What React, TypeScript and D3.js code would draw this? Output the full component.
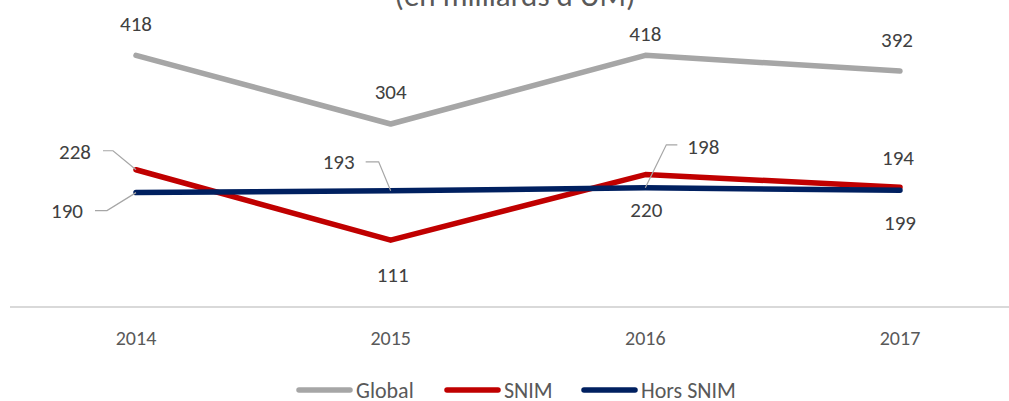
import React from 'react';
import * as d3 from 'd3';

const years = ['2014', '2015', '2016', '2017'];
const globalValues = [418, 304, 418, 392];
const snimValues = [228, 111, 220, 199];
const horsSnimValues = [190, 193, 198, 194];
const seriesNames = ['Global', 'SNIM', 'Hors SNIM'];
const title = "(en milliards d'UM)";

const width = 1009;
const height = 401;
const colors = ['#A6A6A6', '#C00000', '#002060'];
const font = 'Calibri, Carlito, Lato, sans-serif';

// where each data label sits relative to its point (dx, dy of baseline), plus optional leader line
type Lbl = { dx: number; dy: number; leader?: [number, number][] };
const labelPlacement: Lbl[][] = [
  [{ dx: 0, dy: -24 }, { dx: 0, dy: -25 }, { dx: 0, dy: -14 }, { dx: -3, dy: -24 }],
  [
    { dx: -61, dy: -11, leader: [[-23, -19], [-33, -19]] },
    { dx: 2, dy: 42 },
    { dx: 1, dy: 42 },
    { dx: 0, dy: 43 },
  ],
  [
    { dx: -69, dy: 25, leader: [[-29, 18], [-41, 18]] },
    { dx: -52, dy: -22, leader: [[-12, -29], [-25, -29]] },
    { dx: 58, dy: -34, leader: [[21, -43], [32, -43]] },
    { dx: -2, dy: -25 },
  ],
];

const App = () => {
  const series = [globalValues, snimValues, horsSnimValues];

  const x = d3.scalePoint().domain(years).range([136, 900]);
  const y = d3.scaleLinear().domain([0, 500]).range([307, 6]);

  const line = d3
    .line<number>()
    .x((_, i) => x(years[i]) as number)
    .y((d) => y(d));

  const legendX = [297, 445, 582];

  return (
    <svg
      width={width}
      height={height}
      style={{ position: 'absolute', left: 0, top: 0, background: '#fff' }}
      fontFamily={font}
    >
      <text x={515} y={6} textAnchor="middle" fontSize={31} fill="#595959">
        {title}
      </text>

      {/* category axis */}
      <line x1={10} x2={width} y1={y(0)} y2={y(0)} stroke="#D9D9D9" strokeWidth={2} />
      {years.map((yr) => (
        <text key={yr} x={x(yr)} y={345} textAnchor="middle" fontSize={20} fill="#595959">
          {yr}
        </text>
      ))}

      {series.map((vals, si) => (
        <path
          key={si}
          d={line(vals) || ''}
          fill="none"
          stroke={colors[si]}
          strokeWidth={5.5}
          strokeLinecap="round"
          strokeLinejoin="round"
        />
      ))}

      {series.map((vals, si) =>
        vals.map((v, i) => {
          const px = x(years[i]) as number;
          const py = y(v);
          const p = labelPlacement[si][i];
          return (
            <g key={`${si}-${i}`}>
              {p.leader && (
                <polyline
                  points={[[0, 0], ...p.leader].map(([a, b]) => `${px + a},${py + b}`).join(' ')}
                  fill="none"
                  stroke="#A6A6A6"
                  strokeWidth={1.2}
                />
              )}
              <text x={px + p.dx} y={py + p.dy} textAnchor="middle" fontSize={21} fill="#404040">
                {v}
              </text>
            </g>
          );
        })
      )}

      {/* legend */}
      {seriesNames.map((name, si) => (
        <g key={name} transform={`translate(${legendX[si]},390)`}>
          <line x1={2} x2={53} y1={0} y2={0} stroke={colors[si]} strokeWidth={5.5} strokeLinecap="round" />
          <text x={59} y={8} fontSize={22} fill="#595959">
            {name}
          </text>
        </g>
      ))}
    </svg>
  );
};

export default App;
